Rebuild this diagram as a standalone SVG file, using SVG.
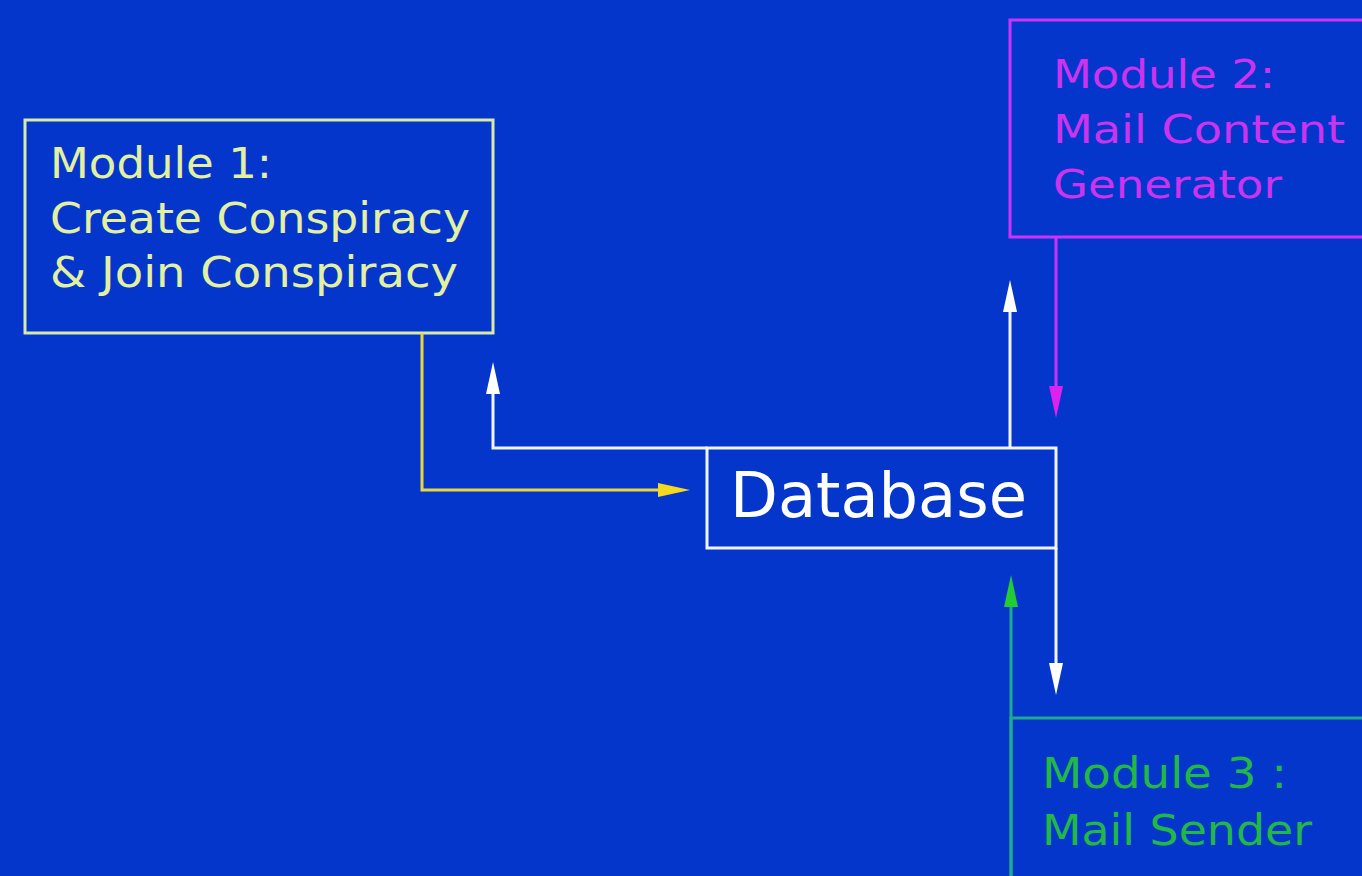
<svg xmlns="http://www.w3.org/2000/svg" width="1362" height="876" viewBox="0 0 1362 876">
<defs>
<style>
.box{fill:#0536cc;stroke-width:3}
.t{font-family:"DejaVu Sans",Verdana,sans-serif}
.ln{fill:none;stroke-width:3}
</style>
<marker id="aw" markerUnits="userSpaceOnUse" markerWidth="34" markerHeight="18" viewBox="0 0 34 18" refX="20" refY="9" orient="auto"><path d="M0,2 L32,9 L0,16 Z" fill="#ffffff"/></marker>
<marker id="ay" markerUnits="userSpaceOnUse" markerWidth="34" markerHeight="18" viewBox="0 0 34 18" refX="20" refY="9" orient="auto"><path d="M0,2 L32,9 L0,16 Z" fill="#f5d820"/></marker>
<marker id="am" markerUnits="userSpaceOnUse" markerWidth="34" markerHeight="18" viewBox="0 0 34 18" refX="20" refY="9" orient="auto"><path d="M0,2 L32,9 L0,16 Z" fill="#dd22ee"/></marker>
<marker id="ag" markerUnits="userSpaceOnUse" markerWidth="34" markerHeight="18" viewBox="0 0 34 18" refX="20" refY="9" orient="auto"><path d="M0,2 L32,9 L0,16 Z" fill="#22cc33"/></marker>
</defs>
<rect width="1362" height="876" fill="#0536cc"/>
<g id="module1">
<rect class="box" x="25" y="120" width="468" height="213" stroke="#d8eaa8"/>
<g class="t" font-size="42" fill="#e2f0a2">
<text x="50" y="178" textLength="222" lengthAdjust="spacingAndGlyphs">Module 1:</text>
<text x="50" y="233" textLength="420" lengthAdjust="spacingAndGlyphs">Create Conspiracy</text>
<text x="50" y="287" textLength="408" lengthAdjust="spacingAndGlyphs">&amp; Join Conspiracy</text>
</g>
</g>
<g id="module2">
<rect class="box" x="1010" y="20" width="360" height="217" stroke="#cc33ff"/>
<g class="t" font-size="39" fill="#cc33ee">
<text x="1053" y="88" textLength="222" lengthAdjust="spacingAndGlyphs">Module 2:</text>
<text x="1053" y="143" textLength="292" lengthAdjust="spacingAndGlyphs">Mail Content</text>
<text x="1053" y="198" textLength="229" lengthAdjust="spacingAndGlyphs">Generator</text>
</g>
</g>
<g id="database">
<rect class="box" x="707" y="448" width="349" height="100" stroke="#f0f4ff"/>
<text class="t" x="730" y="517" font-size="62" fill="#ffffff" textLength="297" lengthAdjust="spacingAndGlyphs">Database</text>
</g>
<g id="module3">
<rect class="box" x="1011" y="718" width="360" height="200" stroke="#20a890"/>
<g class="t" font-size="42" fill="#22b848">
<text x="1042" y="788" textLength="245" lengthAdjust="spacingAndGlyphs">Module 3 :</text>
<text x="1042" y="845" textLength="270" lengthAdjust="spacingAndGlyphs">Mail Sender</text>
</g>
</g>
<g id="connectors">
<path class="ln" d="M422,333 V490 H678" stroke="#e8d840" marker-end="url(#ay)"/>
<path class="ln" d="M707,448 H493 V374" stroke="#f0f4ff" marker-end="url(#aw)"/>
<path class="ln" d="M1010,448 V292" stroke="#f0f4ff" marker-end="url(#aw)"/>
<path class="ln" d="M1056,237 V406" stroke="#cc33ff" marker-end="url(#am)"/>
<path class="ln" d="M1056,548 V683" stroke="#f0f4ff" marker-end="url(#aw)"/>
<path class="ln" d="M1011,876 V587" stroke="#20a890" marker-end="url(#ag)"/>
</g>
</svg>
